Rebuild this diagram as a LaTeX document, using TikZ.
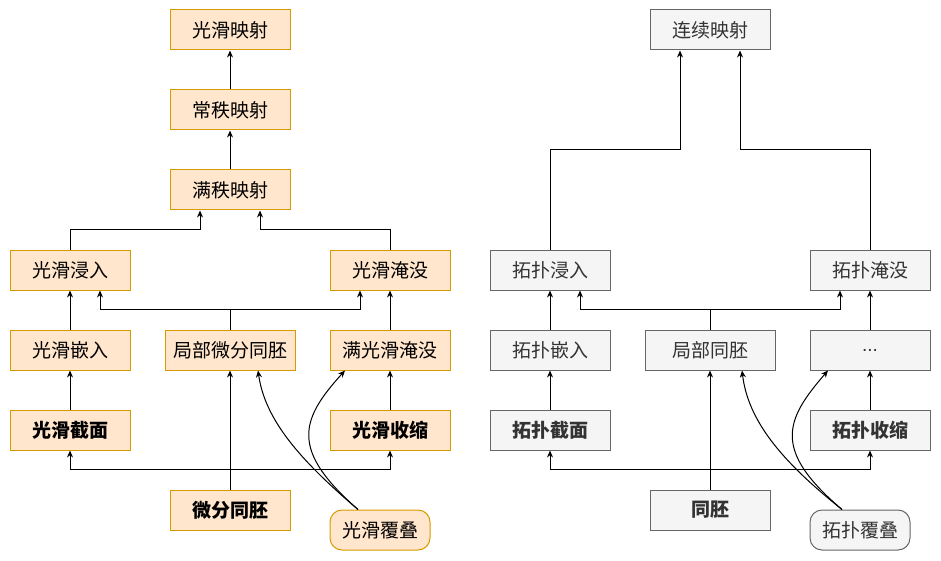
\documentclass[tikz,border=0pt]{standalone}
\usepackage{fontspec}
\newfontfamily\cjk{Noto Sans CJK SC}
\newfontfamily\lat{Liberation Sans}
\usetikzlibrary{arrows.meta}
\definecolor{ofill}{HTML}{FFE6CC}
\definecolor{oline}{HTML}{D79B00}
\definecolor{gfill}{HTML}{F5F5F5}
\definecolor{gline}{HTML}{666666}
\definecolor{gtext}{HTML}{333333}
\tikzset{
  box/.style={draw,line width=1pt,minimum width=120pt,minimum height=40pt,inner sep=0pt,font=\cjk\fontsize{19}{21}\selectfont},
  obox/.style={box,fill=ofill,draw=oline,text=black},
  gbox/.style={box,fill=gfill,draw=gline,text=gtext},
  arr/.style={line width=1pt,-{Stealth[length=7pt,width=6pt]}}
}
\begin{document}
\begin{tikzpicture}[x=1pt,y=-1pt]
\useasboundingbox (0,0) rectangle (941,561);
% smooth side
\node[obox] (smap) at (230,30) {光滑映射};
\node[obox] (crank) at (230,110) {常秩映射};
\node[obox] (frank) at (230,190) {满秩映射};
\node[obox] (imm) at (70,270) {光滑浸入};
\node[obox] (sub) at (390,270) {光滑淹没};
\node[obox] (emb) at (70,350) {光滑嵌入};
\node[obox,minimum width=130pt] (ldiff) at (230,350) {局部微分同胚};
\node[obox] (ssub) at (390,350) {满光滑淹没};
\node[obox,font=\cjk\bfseries\fontsize{19}{21}\selectfont] (sec) at (70,430) {光滑截面};
\node[obox,font=\cjk\bfseries\fontsize{19}{21}\selectfont] (retr) at (390,430) {光滑收缩};
\node[obox,font=\cjk\bfseries\fontsize{19}{21}\selectfont] (diff) at (230,510) {微分同胚};
\node[obox,minimum width=100pt,rounded corners=12pt] (cov) at (380,530) {光滑覆叠};
\draw[arr] (crank) -- (smap);
\draw[arr] (frank) -- (crank);
\draw[arr] (imm.north) -- ++(0,-20) -| ([xshift=-30pt]frank.south);
\draw[arr] (sub.north) -- ++(0,-20) -| ([xshift=30pt]frank.south);
\draw[arr] (emb) -- (imm);
\draw[arr] (ldiff.north) -- ++(0,-20) -| ([xshift=30pt]imm.south);
\draw[arr] (ldiff.north) -- ++(0,-20) -| ([xshift=-30pt]sub.south);
\draw[arr] (ssub) -- (sub);
\draw[arr] (sec) -- (emb);
\draw[arr] (retr) -- (ssub);
\draw[arr] (diff) -- (ldiff);
\draw[arr] (diff.north) -- ++(0,-20) -| (sec.south);
\draw[arr] (diff.north) -- ++(0,-20) -| (retr.south);
\draw[arr] ([xshift=-22pt]cov.north) .. controls (300,460) and (265,420) .. ([xshift=28pt]ldiff.south);
\draw[arr] ([xshift=-22pt]cov.north) .. controls (290,450) and (300,420) .. ([xshift=-45pt]ssub.south);
% topological side
\node[gbox] (cmap) at (710,30) {连续映射};
\node[gbox] (timm) at (550,270) {拓扑浸入};
\node[gbox] (tsub) at (870,270) {拓扑淹没};
\node[gbox] (temb) at (550,350) {拓扑嵌入};
\node[gbox,minimum width=130pt] (lhom) at (710,350) {局部同胚};
\node[gbox,font=\lat\fontsize{19}{21}\selectfont] (dots) at (870,350) {...};
\node[gbox,font=\cjk\bfseries\fontsize{19}{21}\selectfont] (tsec) at (550,430) {拓扑截面};
\node[gbox,font=\cjk\bfseries\fontsize{19}{21}\selectfont] (tretr) at (870,430) {拓扑收缩};
\node[gbox,font=\cjk\bfseries\fontsize{19}{21}\selectfont] (homeo) at (710,510) {同胚};
\node[gbox,minimum width=100pt,rounded corners=12pt] (tcov) at (860,530) {拓扑覆叠};
\draw[arr] (timm.north) -- ++(0,-100) -| ([xshift=-30pt]cmap.south);
\draw[arr] (tsub.north) -- ++(0,-100) -| ([xshift=30pt]cmap.south);
\draw[arr] (temb) -- (timm);
\draw[arr] (lhom.north) -- ++(0,-20) -| ([xshift=30pt]timm.south);
\draw[arr] (lhom.north) -- ++(0,-20) -| ([xshift=-30pt]tsub.south);
\draw[arr] (dots) -- (tsub);
\draw[arr] (tsec) -- (temb);
\draw[arr] (tretr) -- (dots);
\draw[arr] (homeo) -- (lhom);
\draw[arr] (homeo.north) -- ++(0,-20) -| (tsec.south);
\draw[arr] (homeo.north) -- ++(0,-20) -| (tretr.south);
\draw[arr] ([xshift=-18pt]tcov.north) .. controls (780,460) and (748,420) .. ([xshift=32pt]lhom.south);
\draw[arr] ([xshift=-18pt]tcov.north) .. controls (772,450) and (785,420) .. ([xshift=-42pt]dots.south);
\end{tikzpicture}
\end{document}
